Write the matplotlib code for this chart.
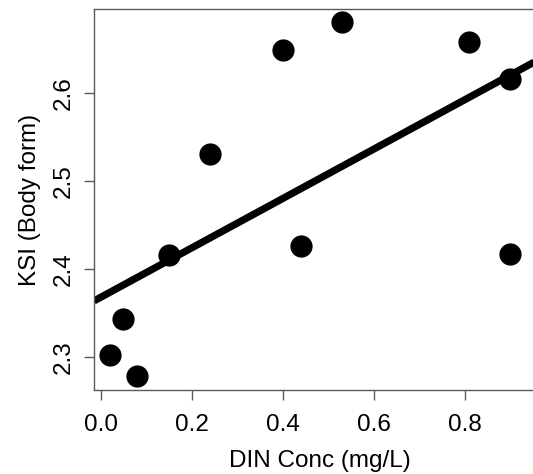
import numpy as np
import matplotlib
matplotlib.use('Agg')
import matplotlib.pyplot as plt

plt.rcParams['font.family'] = ['Liberation Sans', 'DejaVu Sans']

# DIN concentration vs KSI (body form)
din = [0.02, 0.049, 0.08, 0.15, 0.24, 0.40, 0.44, 0.53, 0.81, 0.90, 0.90]
ksi = [2.302, 2.343, 2.278, 2.416, 2.531, 2.649, 2.426, 2.680, 2.657, 2.615, 2.417]
x_ticks = [0.0, 0.2, 0.4, 0.6, 0.8]
y_ticks = [2.3, 2.4, 2.5, 2.6]

FRAME = '#5a5a5a'

fig = plt.figure(figsize=(5.33, 4.74), dpi=100)
fig.patch.set_facecolor('white')
ax = fig.add_axes([0.1764, 0.1772, 0.846, 0.8038])

ax.scatter(din, ksi, s=16 ** 2, color='black', zorder=3, linewidths=0)

# linear fit, drawn across the whole panel like abline()
slope, intercept = np.polyfit(din, ksi, 1)
ax.axline((0, intercept), slope=slope, color='black', lw=5.2,
          solid_capstyle='butt', zorder=2)

ax.set_xlim(-0.0154, 0.976)
ax.set_ylim(2.2626, 2.695)
ax.set_xticks(x_ticks)
ax.set_xticklabels(['0.0', '0.2', '0.4', '0.6', '0.8'])
ax.set_yticks(y_ticks)
ax.set_yticklabels(['2.3', '2.4', '2.5', '2.6'], rotation=90, va='center')

for sp in ax.spines.values():
    sp.set_color(FRAME)
    sp.set_linewidth(1.0)
ax.spines['right'].set_visible(False)
ax.tick_params(axis='both', length=7, width=1.0, color=FRAME,
               labelsize=17.5, labelcolor='black', pad=7)
ax.tick_params(axis='x', pad=10)

ax.set_xlabel('DIN Conc (mg/L)', fontsize=17.5, labelpad=10)
ax.set_ylabel('KSI (Body form)', fontsize=17.5, labelpad=8)

fig.savefig('out.png', dpi=100, facecolor='white')
